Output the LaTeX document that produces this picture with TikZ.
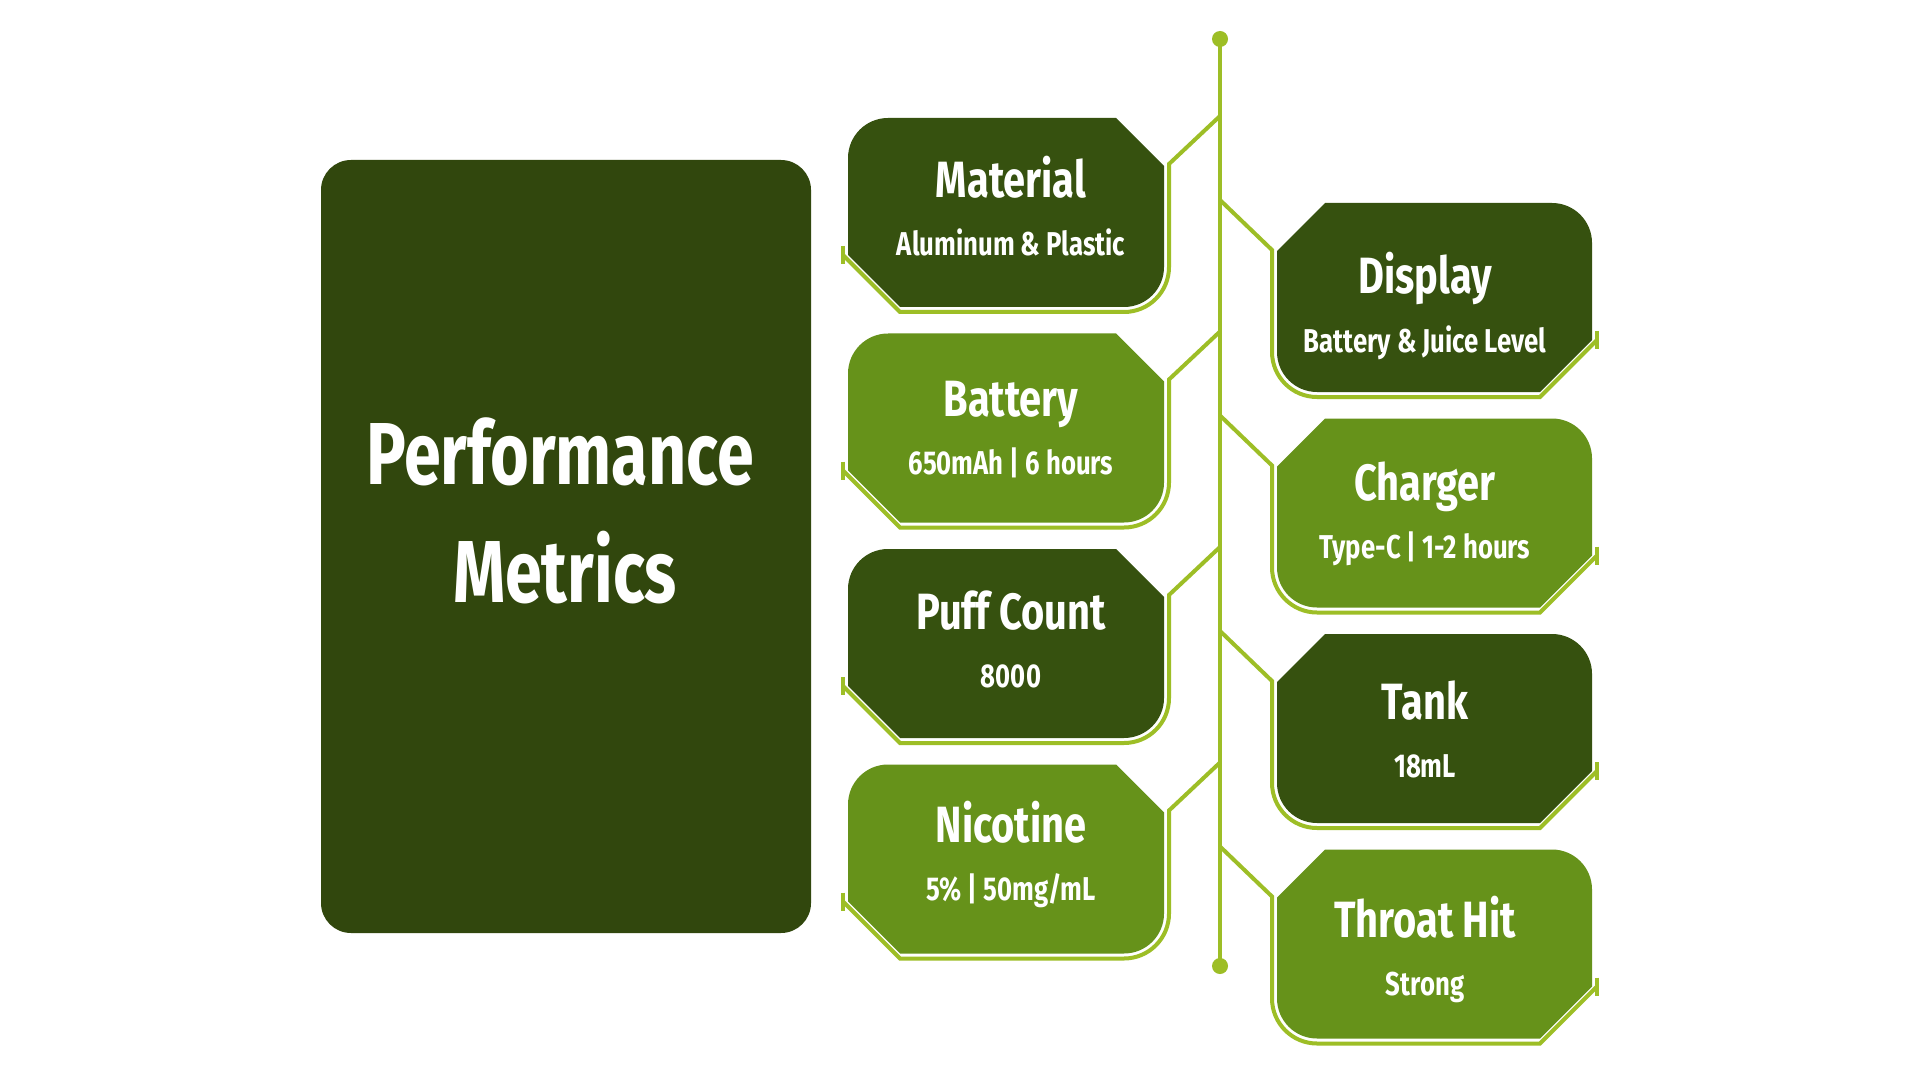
\documentclass[tikz,border=0pt]{standalone}
\usepackage{fontspec}
\usepackage{xcolor,tikz}
\newfontfamily\metricfont{Fira Sans}[FakeStretch=0.78]
\newfontfamily\bigfont{Fira Sans}[FakeStretch=0.755]
\definecolor{MetricDark}{HTML}{31470D}
\definecolor{CardDark}{HTML}{36510F}
\definecolor{CardLight}{HTML}{66921A}
\definecolor{LineLime}{HTML}{9DBE26}
\tikzset{rail/.style={draw=LineLime,line width=2pt},
 bigtitle/.style={text=white,anchor=base,font=\bigfont\bfseries\fontsize{44}{50}\selectfont},
 cardhead/.style={text=white,anchor=base,font=\metricfont\bfseries\fontsize{25.5}{29}\selectfont},
 cardinfo/.style={text=white,anchor=base,font=\metricfont\bfseries\fontsize{16.5}{19}\selectfont}}

\begin{document}
\begin{tikzpicture}[x=0.5pt,y=-0.5pt]
\useasboundingbox[fill=white] (0,0) rectangle (1920,1080);
% title block
\fill[MetricDark,rounded corners=15pt] (321,160) rectangle (811,933);
\node[bigtitle] (perf) at (560,484) {Performance};
\node[bigtitle] (metr) at (565,602) {Metrics};
% spine
\coordinate (railtop) at (1220,39);
\coordinate (railbot) at (1220,966);
\draw[rail] (railtop) -- (railbot);
\fill[LineLime] (railtop) circle[radius=8];
\fill[LineLime] (railbot) circle[radius=8];
% left cards
\foreach \y/\col/\d/\head/\info [count=\i] in {118/CardDark/0/Material/Aluminum \& Plastic,
 333.5/CardLight/2.5/Battery/650mAh | 6 hours,549/CardDark/0/Puff Count/8000,
 764.5/CardLight/-2.5/Nicotine/{5\% | 50mg/mL}}{
 \fill[\col] (848,\y+40) arc[start angle=180,end angle=270,radius=40] -- (1116,\y) -- (1164,\y+48)
  -- (1164,\y+149) arc[start angle=0,end angle=90,radius=40] -- (900,\y+189) -- (848,\y+137) -- cycle;
 \draw[rail] (843,\y+128) -- (843,\y+146);
 \draw[rail] (843,\y+137) -- (900,\y+194) -- (1124,\y+194) arc[start angle=90,end angle=0,radius=45]
  -- (1169,\y+46) -- (1220,\y-2);
 \node[cardhead] (lhead\i) at (1011,\y+80+\d) {\head};
 \node[cardinfo] (linfo\i) at (1011,\y+138+\d) {\info};
}
% right cards
\foreach \y/\col/\d/\head/\info [count=\i] in {203/CardDark/6/Display/Battery \& Juice Level,
 418.5/CardLight/-3/Charger/Type-C | 1-2 hours,634/CardDark/0/Tank/18mL,
 849.5/CardLight/3/Throat Hit/Strong}{
 \fill[\col] (1277,\y+48) -- (1325,\y) -- (1552,\y) arc[start angle=270,end angle=360,radius=40]
  -- (1592,\y+137) -- (1540,\y+189) -- (1317,\y+189) arc[start angle=90,end angle=180,radius=40] -- cycle;
 \draw[rail] (1597,\y+128) -- (1597,\y+146);
 \draw[rail] (1220,\y-3) -- (1272,\y+47) -- (1272,\y+149) arc[start angle=180,end angle=90,radius=45]
  -- (1540,\y+194) -- (1597,\y+137);
 \node[cardhead] (rhead\i) at (1425,\y+85+\d) {\head};
 \node[cardinfo] (rinfo\i) at (1425,\y+143+\d) {\info};
}
\end{tikzpicture}
\end{document}
